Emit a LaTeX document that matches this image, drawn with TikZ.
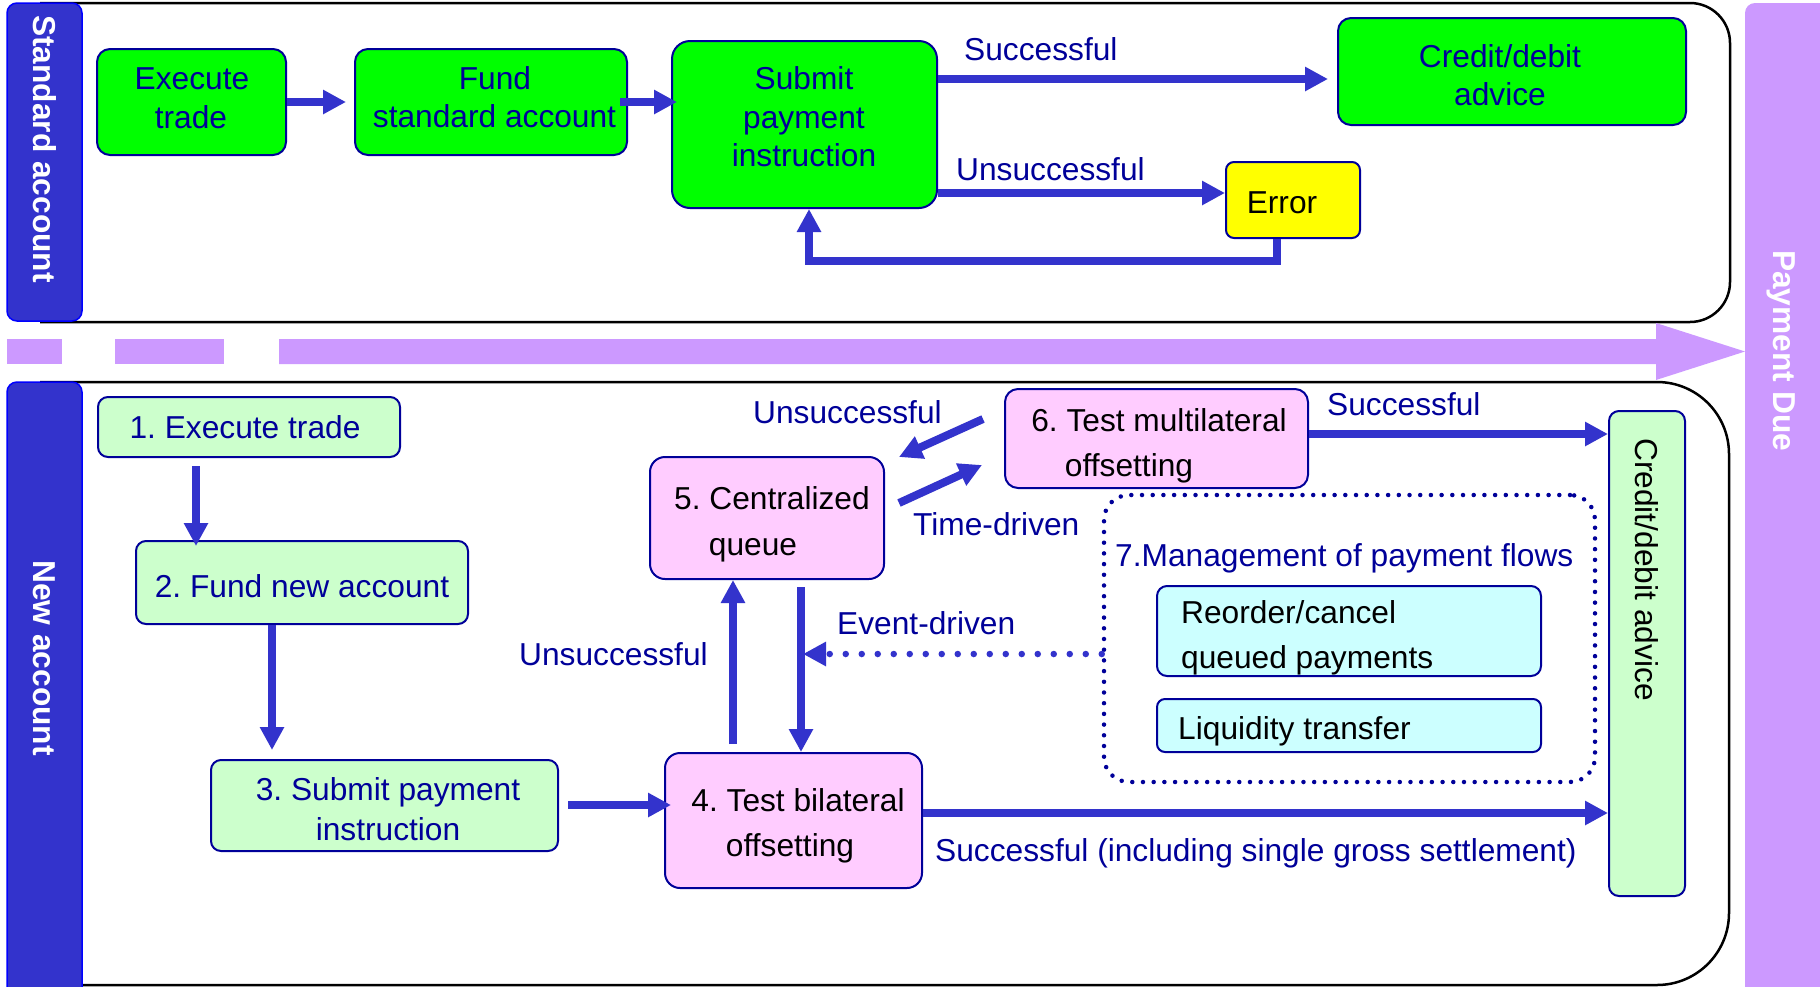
\documentclass[tikz,border=0pt]{standalone}
\usepackage{fontspec}
\setmainfont{Liberation Sans}
\frenchspacing
\usetikzlibrary{arrows.meta,calc}
\definecolor{cArr}{RGB}{51,51,204}
\definecolor{cNavy}{RGB}{0,0,153}
\definecolor{cGreen}{RGB}{0,255,0}
\definecolor{cPink}{RGB}{255,204,255}
\definecolor{cLGreen}{RGB}{204,255,204}
\definecolor{cCyan}{RGB}{204,255,255}
\definecolor{cYel}{RGB}{255,255,0}
\definecolor{cPurp}{RGB}{204,153,255}
\definecolor{cBar}{RGB}{51,51,204}
\begin{document}
\begin{tikzpicture}[x=1pt,y=-1pt,
 bx/.style={draw=cNavy, line width=2pt, rounded corners=13pt, inner sep=0pt},
 txt/.style={inner sep=0pt, font=\fontsize{31.7}{38}\selectfont\frenchspacing, anchor=base},
 ntxt/.style={txt, text=cNavy},
 lbl/.style={txt, text=cNavy, anchor=base west},
 ltxt/.style={txt, anchor=base west},
 arr/.style={draw=cArr, line width=8pt, -{Triangle[length=23pt,width=23pt]}},
 vlab/.style={inner sep=0pt, font=\fontsize{31.7}{38}\selectfont\bfseries, text=white, rotate=-90, anchor=base west},
 panel/.style={draw=black, line width=2.5pt},
]
\path[use as bounding box, clip] (0,0) rectangle (1820,986);
\fill[white] (0,0) rectangle (1820,986);

% panels
\draw[panel, rounded corners=40pt] (40,3) -- (1730,3) -- (1730,322) -- (40,322);
\draw[panel, rounded corners=72pt] (40,382) -- (1729,382) -- (1729,985) -- (40,985);

% side bars
\filldraw[fill=cBar, draw=blue, line width=1.5pt, rounded corners=10pt] (7,3) rectangle (82,321);
\filldraw[fill=cBar, draw=blue, line width=1.5pt, rounded corners=10pt] (7,382) rectangle (82,1010);
\fill[cPurp, rounded corners=10pt] (1745,3) rectangle (1850,1010);
\node[vlab] (lstd) at (33,15) {Standard account};
\node[vlab] (lnew) at (33,560) {New account};
\node[vlab] (ldue) at (1773,250) {Payment Due};

% purple time arrow
\fill[cPurp] (7,339) rectangle (62,364);
\fill[cPurp] (115,339) rectangle (224,364);
\fill[cPurp] (279,339) -- (1656,339) -- (1656,323) -- (1745,351.5) -- (1656,380) -- (1656,364) -- (279,364) -- cycle;

% ---------- top panel ----------
\node[bx, fill=cGreen, minimum width=189pt, minimum height=106pt] (exec) at (191.5,102) {};
\node[ntxt] (execA) at (192,89) {Execute};
\node[ntxt] (execB) at (191,128) {trade};
\node[bx, fill=cGreen, minimum width=272pt, minimum height=106pt] (fund) at (491,102) {};
\node[ntxt] (fundA) at (495,89) {Fund};
\node[ntxt] (fundB) at (494.5,127) {standard account};
\node[bx, fill=cGreen, minimum width=265pt, minimum height=167pt, rounded corners=18pt] (subm) at (804.5,124.5) {};
\node[ntxt] (submA) at (804,89) {Submit};
\node[ntxt] (submB) at (804,128) {payment};
\node[ntxt] (submC) at (804,166) {instruction};
\node[bx, fill=cGreen, minimum width=348pt, minimum height=107pt] (credT) at (1512,71.5) {};
\node[ntxt] (credTA) at (1500,67) {Credit/debit};
\node[ntxt] (credTB) at (1500,105) {advice};
\node[bx, fill=cYel, minimum width=134pt, minimum height=76pt, rounded corners=8pt] (err) at (1293,200) {};
\node[txt] (errA) at (1282,213) {Error};

\draw[arr] (exec.east) -- ([xshift=-8pt]fund.west);
\draw[arr] ($(fund.east)+(-8,0)$) -- ($(fund.east -| subm.west)+(6,0)$);
\draw[arr] (subm.east |- 0,79) -- ($(credT.west |- 0,79)+(-9,0)$);
\draw[arr] (subm.east |- 0,193) -- (err.west |- 0,193);
\draw[arr, line join=miter] (err.south -| 1277,0) -- (1277,261) -- (809,261) -- (subm.south -| 809,0);
\node[lbl] (ls1) at (964,60) {Successful};
\node[lbl] (lu1) at (956,180) {Unsuccessful};

% ---------- bottom panel ----------
\node[bx, fill=cLGreen, minimum width=302pt, minimum height=60pt, rounded corners=10pt] (n1) at (249,427) {};
\node[ntxt] (n1A) at (245,438) {1. Execute trade};
\node[bx, fill=cLGreen, minimum width=332pt, minimum height=83pt, rounded corners=10pt] (n2) at (302,582.5) {};
\node[ntxt] (n2A) at (302,597) {2. Fund new account};
\node[bx, fill=cLGreen, minimum width=347pt, minimum height=91pt, rounded corners=10pt] (n3) at (384.5,805.5) {};
\node[ntxt] (n3A) at (388,800) {3. Submit payment};
\node[ntxt] (n3B) at (388,840) {instruction};
\node[bx, fill=cPink, minimum width=257pt, minimum height=135pt, rounded corners=15pt] (n4) at (793.5,820.5) {};
\node[txt] (n4A) at (798,811) {4. Test bilateral};
\node[txt] (n4B) at (790,856) {offsetting};
\node[bx, fill=cPink, minimum width=234pt, minimum height=122pt, rounded corners=15pt] (n5) at (767,518) {};
\node[txt] (n5A) at (772,509) {5. Centralized};
\node[txt] (n5B) at (753,555) {queue};
\node[bx, fill=cPink, minimum width=303pt, minimum height=99pt, rounded corners=13pt] (n6) at (1156.5,438.5) {};
\node[txt] (n6A) at (1159,431) {6. Test multilateral};
\node[txt] (n6B) at (1129,476) {offsetting};
\node[bx, fill=cLGreen, minimum width=76pt, minimum height=485pt, rounded corners=10pt] (credB) at (1647,653.5) {};
\node[inner sep=0pt, font=\fontsize{31.7}{38}\selectfont, rotate=-90, anchor=base west] (credBA) at (1635,438) {Credit/debit advice};

\node[draw=cNavy, line width=4.5pt, dash pattern=on 0pt off 10.7pt, line cap=round, rounded corners=25pt, minimum width=491pt, minimum height=287pt, inner sep=0pt] (mgmt) at (1349.5,638.5) {};
\node[lbl] (mgmtA) at (1115,566) {7.Management of payment flows};
\node[bx, fill=cCyan, minimum width=384pt, minimum height=90pt, rounded corners=10pt] (reord) at (1349,631) {};
\node[ltxt] (reordA) at (1181,623) {Reorder/cancel};
\node[ltxt] (reordB) at (1181,668) {queued payments};
\node[bx, fill=cCyan, minimum width=384pt, minimum height=53pt, rounded corners=8pt] (liq) at (1349,725.5) {};
\node[ltxt] (liqA) at (1178,739) {Liquidity transfer};

% connectors
\coordinate (u6s) at (983,419);
\coordinate (u5e) at (899,457);
\coordinate (t5s) at (899,503);
\coordinate (t6e) at (982,465);
\coordinate (evt) at (803,654);
\draw[arr] ($(n1.south -| 196,0)+(0,8)$) -- ($(n2.north -| 196,0)+(0,6)$);
\draw[arr] (n2.south -| 272,0) -- ($(n3.north -| 272,0)+(0,-9)$);
\draw[arr] ($(n3.east |- 0,805)+(9,0)$) -- ($(n4.west |- 0,805)+(7,0)$);
\draw[arr] ($(n4.north -| 733,0)+(0,-8)$) -- (n5.south -| 733,0);
\draw[arr] ($(n5.south -| 801,0)+(0,7)$) -- (n4.north -| 801,0);
\draw[arr] (u6s) -- (u5e);
\draw[arr] (t5s) -- (t6e);
\draw[arr] (n6.east |- 0,434) -- (credB.west |- 0,434);
\draw[arr] (n4.east |- 0,813) -- (credB.west |- 0,813);
\draw[draw=cArr, line width=6.5pt, line cap=round, dash pattern=on 0pt off 16pt, -{Triangle[length=23pt,width=23pt]}] (mgmt.west |- 0,654) -- (evt);

\node[lbl] (lu2) at (753,423) {Unsuccessful};
\node[lbl] (ltd) at (913,535) {Time-driven};
\node[lbl] (lu3) at (519,665) {Unsuccessful};
\node[lbl] (led) at (837,634) {Event-driven};
\node[lbl] (ls2) at (1327,415) {Successful};
\node[lbl] (ls3) at (935,861) {Successful (including single gross settlement)};
\end{tikzpicture}
\end{document}
